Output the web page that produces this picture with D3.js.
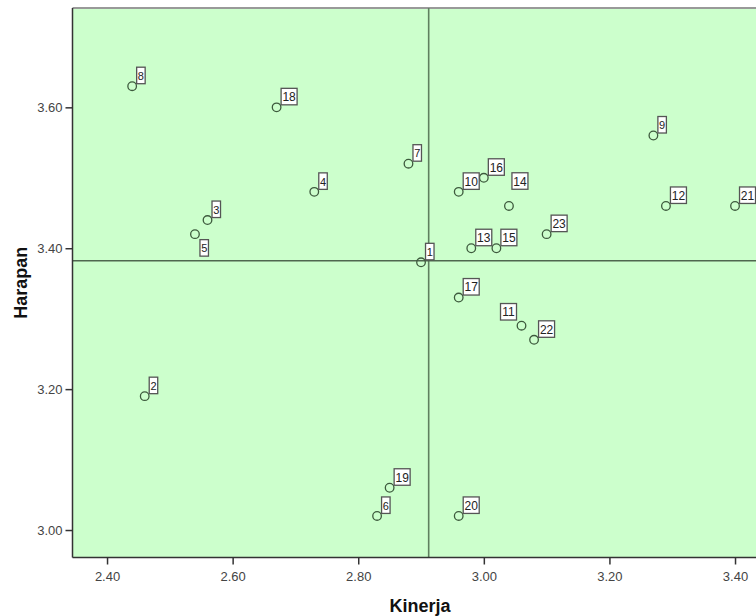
<!DOCTYPE html>
<html><head><meta charset="utf-8">
<script src="https://cdn.jsdelivr.net/npm/d3@7"></script>
<style>body{margin:0;background:#fff;}svg{display:block;font-family:"Liberation Sans",Arial,sans-serif;}</style>
</head><body>
<svg id="c" width="756" height="616"></svg>
<script>
const cases   = [1,2,3,4,5,6,7,8,9,10,11,12,13,14,15,16,17,18,19,20,21,22,23];
const kinerja = [2.90,2.46,2.56,2.73,2.54,2.83,2.88,2.44,3.27,2.96,3.06,3.29,2.98,3.04,3.02,3.00,2.96,2.67,2.85,2.96,3.40,3.08,3.10];
const harapan = [3.38,3.19,3.44,3.48,3.42,3.02,3.52,3.63,3.56,3.48,3.29,3.46,3.40,3.46,3.40,3.50,3.33,3.60,3.06,3.02,3.46,3.27,3.42];
const xTicks = [2.40,2.60,2.80,3.00,3.20,3.40];
const yTicks = [3.00,3.20,3.40,3.60];
const xTitle = "Kinerja", yTitle = "Harapan";
const labelPlacement = {5:"below", 11:"left", 14:"high"};

const L=72.5, R=756, T=8, B=557.5;
const x = d3.scaleLinear().domain([2.345,3.4334]).range([L,R]);
const y = d3.scaleLinear().domain([2.961,3.741]).range([B,T]);
const svg = d3.select("#c");
const data = cases.map((c,i)=>({id:c,k:kinerja[i],h:harapan[i]}));

svg.append("rect").attr("x",L).attr("y",T).attr("width",R-L).attr("height",B-T).attr("fill","#ccffcc");
svg.append("line").attr("x1",L).attr("x2",R).attr("y1",T).attr("y2",T).attr("stroke","#999").attr("stroke-width",2);

// mean reference lines
const mx = d3.mean(kinerja), my = d3.mean(harapan);
svg.append("line").attr("x1",x(mx)).attr("x2",x(mx)).attr("y1",T).attr("y2",B).attr("stroke","#5f7f5f").attr("stroke-width",1.6);
svg.append("line").attr("x1",L).attr("x2",R).attr("y1",y(my)).attr("y2",y(my)).attr("stroke","#4f674f").attr("stroke-width",1.4);

// axes
const fmt = d3.format(".2f");
const ax = svg.append("g").attr("transform",`translate(0,${B})`).call(d3.axisBottom(x).tickValues(xTicks).tickFormat(fmt).tickSize(7).tickSizeOuter(0));
const ay = svg.append("g").attr("transform",`translate(${L},0)`).call(d3.axisLeft(y).tickValues(yTicks).tickFormat(fmt).tickSize(7).tickSizeOuter(0));
[ax,ay].forEach(g=>{
  g.select(".domain").attr("stroke","#333").attr("stroke-width",1.5);
  g.selectAll(".tick line").attr("stroke","#333").attr("stroke-width",1.5);
  g.selectAll(".tick text").attr("fill","#444").attr("font-size",13).attr("font-family","Liberation Sans, Arial, sans-serif");
});
ax.selectAll(".tick text").attr("y",23.5).attr("dy",0);
ay.selectAll(".tick text").attr("x",-10);
ay.select(".domain").attr("d",`M0,${T}V${B}`);
ax.select(".domain").attr("d",`M${L},0H${R}`);

svg.append("text").attr("x",420).attr("y",612).attr("text-anchor","middle").attr("font-size",18).attr("font-weight","bold").attr("fill","#111").text(xTitle);
svg.append("text").attr("transform",`translate(26.5,${(T+B)/2}) rotate(-90)`).attr("text-anchor","middle").attr("font-size",18).attr("font-weight","bold").attr("fill","#111").text(yTitle);

// points
svg.append("g").selectAll("circle").data(data).join("circle")
  .attr("cx",d=>x(d.k)).attr("cy",d=>y(d.h)).attr("r",4.3)
  .attr("fill","none").attr("stroke","#3d5a3d").attr("stroke-width",1.3);

// labels
const lg = svg.append("g");
data.forEach(d=>{
  const cx=x(d.k), cy=y(d.h);
  const s=String(d.id);
  const w = s.length>1?16:8.5, h=16.5;
  let bx=cx+4.5, by=cy-2.5-h;
  const p=labelPlacement[d.id];
  if(p==="below"){bx=cx+5; by=cy+5.5;}
  else if(p==="left"){bx=cx-5-w; by=cy-5.7-h;}
  else if(p==="high"){bx=cx+3; by=cy-16.7-h;}
  lg.append("rect").attr("x",bx).attr("y",by).attr("width",w).attr("height",h)
    .attr("fill","#fff").attr("stroke","#555").attr("stroke-width",1.3);
  lg.append("text").attr("x",bx+w/2).attr("y",by+h/2+4.5).attr("text-anchor","middle")
    .attr("font-size",s.length>1?12:11).attr("fill","#222").text(s);
});
</script>
</body></html>
